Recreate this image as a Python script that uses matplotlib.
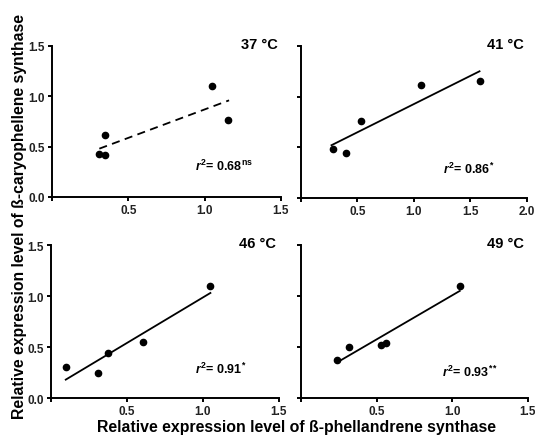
import matplotlib
matplotlib.use('Agg')
import matplotlib.pyplot as plt

plt.rcParams['font.family'] = ['Liberation Sans', 'DejaVu Sans']
plt.rcParams['font.weight'] = 'bold'
plt.rcParams['mathtext.fontset'] = 'custom'
plt.rcParams['mathtext.rm'] = 'Liberation Sans:bold'
plt.rcParams['mathtext.it'] = 'Liberation Sans:italic:bold'
plt.rcParams['mathtext.bf'] = 'Liberation Sans:bold'

# temperatures and points
temps = ['37 °C', '41 °C', '46 °C', '49 °C']

x37 = [0.31, 0.35, 0.35, 1.05, 1.15]
y37 = [0.43, 0.42, 0.62, 1.10, 0.76]
x41 = [0.28, 0.40, 0.53, 1.06, 1.58]
y41 = [0.48, 0.44, 0.76, 1.11, 1.15]
x46 = [0.10, 0.31, 0.38, 0.61, 1.05]
y46 = [0.30, 0.25, 0.44, 0.55, 1.10]
x49 = [0.24, 0.32, 0.53, 0.56, 1.05]
y49 = [0.37, 0.50, 0.52, 0.54, 1.10]

# regression line end points
fit_x = [[0.31, 1.16], [0.27, 1.58], [0.10, 1.05], [0.24, 1.05]]
fit_y = [[0.48, 0.96], [0.52, 1.25], [0.18, 1.03], [0.35, 1.05]]
fit_style = ['--', '-', '-', '-']

r2_labels = [r'$\mathit{r}^{2}$= 0.68$^{\mathrm{ns}}$',
             r'$\mathit{r}^{2}$= 0.86$^{*}$',
             r'$\mathit{r}^{2}$= 0.91$^{*}$',
             r'$\mathit{r}^{2}$= 0.93$^{**}$']

x_max = [1.5, 2.0, 1.5, 1.5]
x_ticks = [[0, 0.5, 1.0, 1.5], [0, 0.5, 1.0, 1.5, 2.0], [0, 0.5, 1.0, 1.5], [0, 0.5, 1.0, 1.5]]
y_ticks = [0, 0.5, 1.0, 1.5]

xs = [x37, x41, x46, x49]
ys = [y37, y41, y46, y49]

# axes rectangles (figure fraction)
boxes = [[0.0972, 0.549, 0.428, 0.344],
         [0.5626, 0.547, 0.4224, 0.346],
         [0.0944, 0.0911, 0.427, 0.3485],
         [0.5626, 0.0911, 0.424, 0.3485]]
r2_pos = [(0.94, 0.31), (1.26, 0.29), (0.95, 0.29), (0.93, 0.26)]

fig = plt.figure(figsize=(5.35, 4.39), dpi=100)

for i in range(4):
    ax = fig.add_axes(boxes[i])
    ax.plot(xs[i], ys[i], 'o', color='black', markersize=4.5, zorder=3)
    line, = ax.plot(fit_x[i], fit_y[i], fit_style[i], color='black', linewidth=1.3)
    if fit_style[i] == '--':
        line.set_dashes((4.5, 3))
    ax.set_xlim(0, x_max[i])
    ax.set_ylim(0, 1.5)
    ax.set_xticks(x_ticks[i])
    ax.set_xticklabels([''] + ['%.1f' % t for t in x_ticks[i][1:]])
    ax.set_yticks(y_ticks)
    if i % 2 == 0:
        ax.set_yticklabels(['%.1f' % t for t in y_ticks])
    else:
        ax.set_yticklabels([])
    ax.spines['top'].set_visible(False)
    ax.spines['right'].set_visible(False)
    ax.spines['left'].set_linewidth(1.4)
    ax.spines['bottom'].set_linewidth(1.4)
    ax.tick_params(direction='out', length=3, width=1.4, labelsize=8.5, pad=2,
                   labelcolor='#222222')
    for lab in ax.get_xticklabels() + ax.get_yticklabels():
        lab.set_fontweight('bold')
    ax.text(x_max[i] * 0.985, 1.52, temps[i], ha='right', va='center',
            fontsize=10.5, fontweight='bold')
    ax.text(r2_pos[i][0], r2_pos[i][1], r2_labels[i], ha='left', va='center',
            fontsize=9, fontweight='bold')

fig.text(0.036, 0.506, 'Relative expression level of ß-caryophellene synthase',
         rotation=90, ha='center', va='center', fontsize=11.3, fontweight='bold')
fig.text(0.555, 0.027, 'Relative expression level of ß-phellandrene synthase',
         ha='center', va='center', fontsize=11.4, fontweight='bold')

fig.savefig('out.png', dpi=100)
